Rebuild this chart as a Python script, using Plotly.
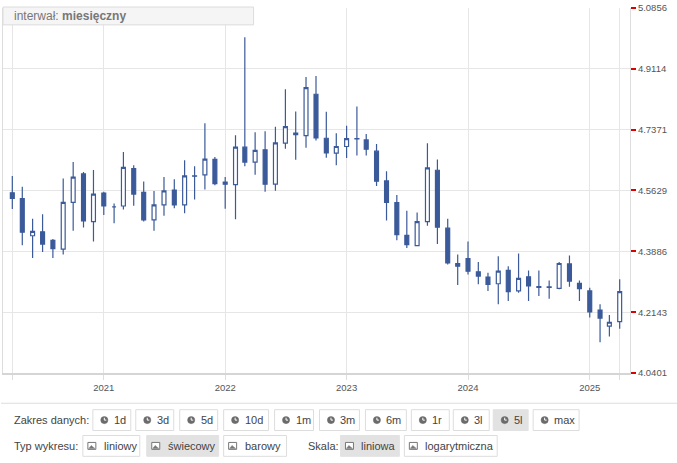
import plotly.graph_objects as go
import pandas as pd

# monthly candles, Apr 2020 .. Apr 2025
months = pd.date_range("2020-04-01", "2025-04-01", freq="MS")

open_ = [4.5563, 4.5393, 4.4333, 4.4447, 4.4200, 4.3952, 4.5288, 4.6103, 4.4739, 4.5555,
         4.5160, 4.5185, 4.6254, 4.5574, 4.4788, 4.5214, 4.5640, 4.5214, 4.6046, 4.6075,
         4.6520, 4.5868, 4.5799, 4.6870, 4.6444, 4.6793, 4.5811, 4.6984, 4.7276, 4.7202,
         4.8385, 4.7125, 4.6699, 4.6889, 4.7117, 4.7077, 4.6756, 4.5904, 4.5279, 4.4342,
         4.4049, 4.4739, 4.6208, 4.4549, 4.3538, 4.3680, 4.3299, 4.3148, 4.2958, 4.3339,
         4.2751, 4.3157, 4.2873, 4.2855, 4.2827, 4.3526, 4.2969, 4.2751, 4.2202, 4.1742,
         4.1875]
high = [4.6046, 4.5734, 4.4816, 4.4947, 4.4236, 4.5970, 4.6444, 4.6160, 4.6217, 4.5592,
        4.5259, 4.6728, 4.6350, 4.5887, 4.5611, 4.6018, 4.5953, 4.6492, 4.6322, 4.7552,
        4.6586, 4.6018, 4.7209, 5.0016, 4.7296, 4.7325, 4.7458, 4.8527, 4.7893, 4.8879,
        4.8907, 4.7884, 4.7267, 4.7486, 4.8035, 4.7248, 4.6964, 4.6179, 4.5498, 4.5052,
        4.4995, 4.6984, 4.6520, 4.4816, 4.3793, 4.4171, 4.3583, 4.3270, 4.3745, 4.3461,
        4.3822, 4.3339, 4.3339, 4.3054, 4.3583, 4.3765, 4.3054, 4.2844, 4.2373, 4.2063,
        4.3083]
low = [4.5100, 4.4057, 4.3697, 4.3867, 4.3697, 4.3793, 4.4475, 4.4569, 4.4171, 4.4930,
       4.4691, 4.5086, 4.5194, 4.4739, 4.4475, 4.4907, 4.5117, 4.4975, 4.5373, 4.5656,
       4.5782, 4.5103, 4.4805, 4.6322, 4.6083, 4.5592, 4.5620, 4.6821, 4.6509, 4.6850,
       4.7060, 4.6566, 4.6350, 4.6558, 4.6634, 4.6634, 4.5754, 4.4768, 4.4200, 4.3981,
       4.4029, 4.4617, 4.4094, 4.3509, 4.2921, 4.3225, 4.2941, 4.2751, 4.2373, 4.2466,
       4.2703, 4.2466, 4.2608, 4.2531, 4.2799, 4.2873, 4.2466, 4.1992, 4.1282, 4.1446,
       4.1666]
close = [4.5401, 4.4435, 4.4455, 4.4094, 4.3964, 4.5288, 4.6009, 4.4759, 4.5526, 4.5185,
         4.5160, 4.6293, 4.5526, 4.4788, 4.5214, 4.5620, 4.5214, 4.6046, 4.6040, 4.6529,
         4.5828, 4.5811, 4.6870, 4.6444, 4.6776, 4.5811, 4.6992, 4.7458, 4.7231, 4.8575,
         4.7134, 4.6708, 4.6889, 4.7117, 4.7107, 4.6813, 4.5896, 4.5288, 4.4361, 4.4077,
         4.4739, 4.6274, 4.4577, 4.3555, 4.3461, 4.3319, 4.3177, 4.2941, 4.3319, 4.2731,
         4.3111, 4.2893, 4.2855, 4.2870, 4.3538, 4.3035, 4.2816, 4.2154, 4.1974, 4.1855,
         4.2731]

y_ticks = [4.0401, 4.2143, 4.3886, 4.5629, 4.7371, 4.9114, 5.0856]
year_ticks = ["2021-01-01", "2022-01-01", "2023-01-01", "2024-01-01", "2025-01-01"]
year_labels = ["2021", "2022", "2023", "2024", "2025"]

range_labels = ["1d", "3d", "5d", "10d", "1m", "3m", "6m", "1r", "3l", "5l", "max"]
type_labels = ["liniowy", "świecowy", "barowy"]
scale_labels = ["liniowa", "logarytmiczna"]

# button pixel extents (left, right)
range_pos = [(92, 130), (135, 173), (179, 217), (223, 268), (274, 313), (319, 359),
             (365, 406), (411, 449), (453, 489), (493, 528), (533, 579)]
type_pos = [(82, 139), (146, 218), (223, 286)]
scale_pos = [(340, 399), (404, 497)]

W, H = 677, 463
ML, MR, MT, MB = 2, 47, 5, 90
PW, PH = W - ML - MR, H - MT - MB


def px(x):
    return (x - ML) / PW


def py(y):
    return (H - MB - y) / PH


blue = "#3b5a9a"

fig = go.Figure(go.Candlestick(
    x=months, open=open_, high=high, low=low, close=close,
    increasing=dict(line=dict(color=blue, width=1.2), fillcolor="white"),
    decreasing=dict(line=dict(color=blue, width=1.2), fillcolor=blue),
    whiskerwidth=0,
))

shapes = []
annotations = []

# interval box at the top
shapes.append(dict(type="rect", xref="paper", yref="paper",
                   x0=px(2), x1=px(253), y0=py(22), y1=py(4),
                   fillcolor="#f5f5f5", line=dict(color="#dcdcdc", width=1)))
annotations.append(dict(xref="paper", yref="paper", x=px(11), y=py(13.5),
                        xanchor="left", yanchor="middle", showarrow=False,
                        text="interwał: <b>miesięczny</b>",
                        font=dict(family="Liberation Sans", size=12, color="#777")))

# separator above controls
shapes.append(dict(type="line", xref="paper", yref="paper",
                   x0=px(0), x1=px(W), y0=py(403.5), y1=py(403.5),
                   line=dict(color="#dddddd", width=1)))


def button(left, right, top, bottom, label, active, icon):
    fill = "#e2e2e2" if active else "white"
    border = "#e2e2e2" if active else "#dddddd"
    shapes.append(dict(type="rect", xref="paper", yref="paper",
                       x0=px(left), x1=px(right), y0=py(bottom), y1=py(top),
                       fillcolor=fill, line=dict(color=border, width=1)))
    cy = (top + bottom) / 2
    if icon == "clock":
        cx = left + 11.5
        shapes.append(dict(type="circle", xref="paper", yref="paper",
                           x0=px(cx - 3.6), x1=px(cx + 3.6), y0=py(cy + 3.6), y1=py(cy - 3.6),
                           fillcolor="#6b6b6b", line=dict(color="#6b6b6b", width=0.5)))
        shapes.append(dict(type="path", xref="paper", yref="paper",
                           path="M %f,%f L %f,%f L %f,%f" % (px(cx), py(cy - 2.4), px(cx), py(cy),
                                                           px(cx + 2), py(cy)),
                           line=dict(color="white", width=1)))
    else:
        shapes.append(dict(type="rect", xref="paper", yref="paper",
                           x0=px(left + 5), x1=px(left + 13), y0=py(cy + 3.5), y1=py(cy - 3.5),
                           fillcolor="white", line=dict(color="#777", width=1)))
        shapes.append(dict(type="path", xref="paper", yref="paper",
                           path="M %f,%f L %f,%f L %f,%f L %f,%f Z" % (
                               px(left + 6), py(cy + 2.5), px(left + 8.5), py(cy - 0.5),
                               px(left + 10), py(cy + 1), px(left + 12), py(cy + 2.5)),
                           fillcolor="#777", line=dict(color="#777", width=0.5)))
    annotations.append(dict(xref="paper", yref="paper", x=px(left + 19), y=py(cy),
                            xanchor="left", yanchor="middle", showarrow=False, text=label,
                            font=dict(family="Liberation Sans", size=11, color="#444")))


row1 = (410, 431)
row2 = (436, 457)
label_font = dict(family="Liberation Sans", size=11, color="#444")

annotations.append(dict(xref="paper", yref="paper", x=px(11), y=py(420.5), xanchor="left",
                        yanchor="middle", showarrow=False, text="Zakres danych:", font=label_font))
for lab, (l, r) in zip(range_labels, range_pos):
    button(l, r, row1[0], row1[1], lab, lab == "5l", "clock")

annotations.append(dict(xref="paper", yref="paper", x=px(11), y=py(446.5), xanchor="left",
                        yanchor="middle", showarrow=False, text="Typ wykresu:", font=label_font))
for lab, (l, r) in zip(type_labels, type_pos):
    button(l, r, row2[0], row2[1], lab, lab == "świecowy", "image")

annotations.append(dict(xref="paper", yref="paper", x=px(305), y=py(446.5), xanchor="left",
                        yanchor="middle", showarrow=False, text="Skala:", font=label_font))
for lab, (l, r) in zip(scale_labels, scale_pos):
    button(l, r, row2[0], row2[1], lab, lab == "liniowa", "image")

tick_x = [months[0].strftime("%Y-%m-%d")] + year_ticks + [months[-1].strftime("%Y-%m-%d")]
tick_t = [""] + year_labels + [""]

fig.update_layout(
    width=W, height=H,
    margin=dict(l=ML, r=MR, t=MT, b=MB, pad=0),
    paper_bgcolor="white", plot_bgcolor="white",
    showlegend=False,
    boxgap=0.4,
    shapes=shapes,
    annotations=annotations,
    xaxis=dict(
        type="date", range=["2020-03-04", "2025-05-02"],
        rangeslider=dict(visible=False),
        tickmode="array", tickvals=tick_x, ticktext=tick_t,
        showgrid=True, gridcolor="#e6e6e6", gridwidth=1,
        ticks="outside", ticklen=5, tickcolor="#dddddd",
        showline=True, linecolor="#d5d5d5", linewidth=1.5,
        tickfont=dict(family="Liberation Sans", size=9.5, color="#555"),
        fixedrange=True,
    ),
    yaxis=dict(
        side="right", range=[4.0401, 5.0856],
        tickmode="array", tickvals=y_ticks, ticktext=["%.4f" % v for v in y_ticks],
        showgrid=True, gridcolor="#e6e6e6", gridwidth=1, zeroline=False,
        ticks="outside", ticklen=5, tickwidth=1.5, tickcolor="#e00000",
        showline=True, linecolor="#dddddd", mirror=True,
        ticklabeloverflow="allow",
        tickfont=dict(family="Liberation Sans", size=9.5, color="#555"),
        fixedrange=True,
    ),
)

fig.write_html("out.html", config={"displayModeBar": False},
               post_script="document.body.style.margin='0px';")
